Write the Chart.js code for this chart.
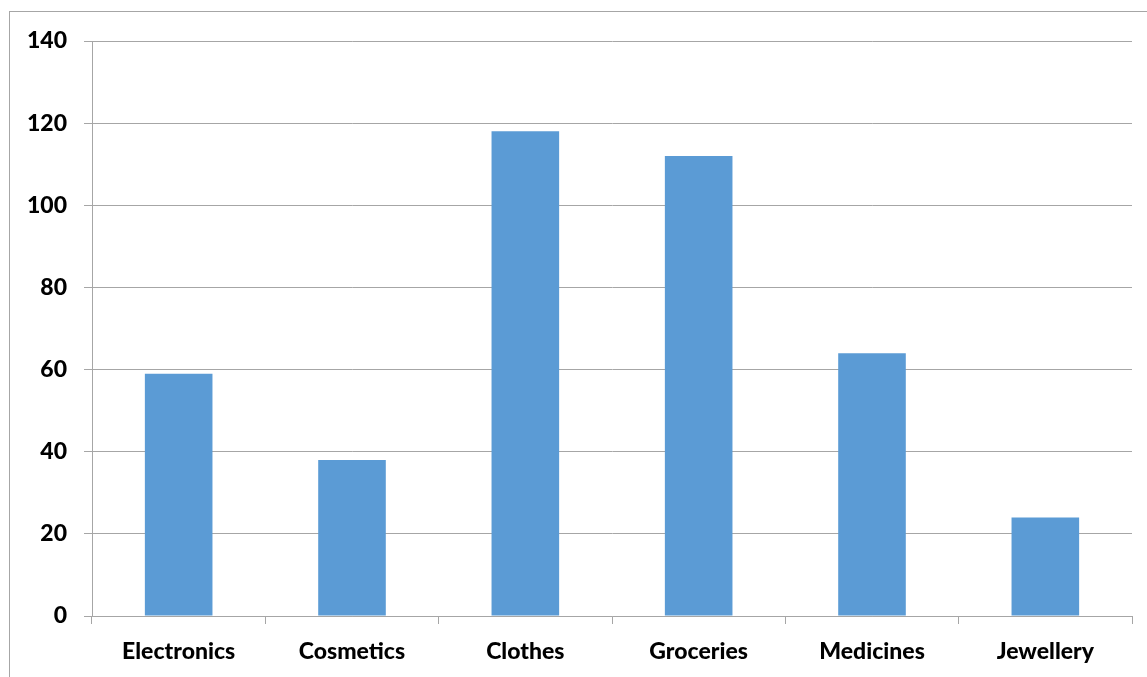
<!DOCTYPE html>
<html>
<head>
<meta charset="utf-8">
<script src="https://cdn.jsdelivr.net/npm/chart.js@4.4.1/dist/chart.umd.min.js"></script>
<style>
  html, body { margin: 0; padding: 0; background: #fff; overflow: hidden; }
  #wrap { position: relative; width: 1147px; height: 677px; }
  #frame { position: absolute; left: 9px; top: 11px; width: 1200px; height: 700px; border: 1px solid #a6a6a6; box-sizing: border-box; }
  canvas { position: absolute; left: 0; top: 0; }
</style>
</head>
<body>
<div id="wrap">
  <div id="frame"></div>
  <canvas id="barChart" width="1147" height="677"></canvas>
</div>
<script>
// data
const categories = ['Electronics', 'Cosmetics', 'Clothes', 'Groceries', 'Medicines', 'Jewellery'];
const sales = [59, 38, 118, 112, 64, 24];
const yTicks = [0, 20, 40, 60, 80, 100, 120, 140];

const gridColor = '#a6a6a6';
const labelFont = { family: 'Lato, "Open Sans", sans-serif', size: 23, weight: '900' };

const ctx = document.getElementById('barChart').getContext('2d');

new Chart(ctx, {
  type: 'bar',
  data: {
    labels: categories,
    datasets: [
      {
        data: sales,
        backgroundColor: '#5b9bd5',
        borderWidth: 0,
        categoryPercentage: 1,
        barPercentage: 0.39,
      },
    ],
  },
  options: {
    responsive: false,
    animation: false,
    layout: { padding: { top: 41, right: 15, left: 0, bottom: 0 } },
    plugins: {
      legend: { display: false },
      tooltip: { enabled: false },
    },
    scales: {
      x: {
        offset: true,
        grid: {
          offset: true,
          drawOnChartArea: false,
          drawTicks: true,
          tickLength: 8,
          color: gridColor,
        },
        border: { color: gridColor },
        ticks: { color: '#000', font: labelFont, padding: 14, maxRotation: 0 },
        afterFit: (s) => { s.height = 61; },
      },
      y: {
        min: 0,
        max: 140,
        afterBuildTicks: (s) => { s.ticks = yTicks.map((v) => ({ value: v })); },
        grid: { color: gridColor, tickLength: 8 },
        border: { color: gridColor },
        ticks: { color: '#000', font: labelFont, padding: 17 },
        afterFit: (s) => { s.width = 92; },
      },
    },
  },
});
</script>
</body>
</html>
